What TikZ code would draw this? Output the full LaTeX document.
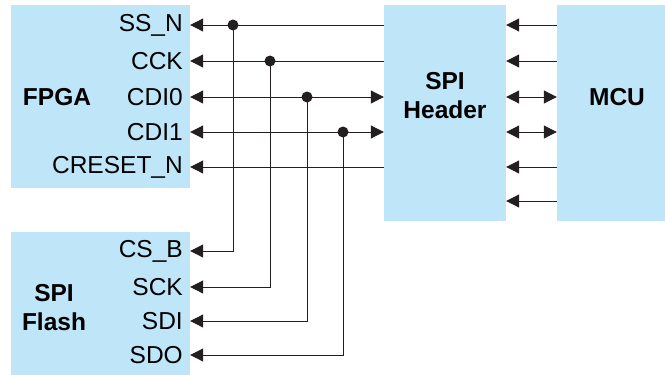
\documentclass[tikz,border=0pt]{standalone}
\usepackage{fontspec}
\setmainfont{Liberation Sans}
\usetikzlibrary{arrows.meta}
\definecolor{blockblue}{HTML}{BEE5F8}
\definecolor{wire}{HTML}{231F20}

\begin{document}
\begin{tikzpicture}[x=1pt,y=-1pt,
  block/.style={fill=blockblue,draw=none,inner sep=0pt},
  pin/.style={anchor=east,inner sep=0pt,font=\fontsize{24.5}{26}\selectfont},
  title/.style={align=center,inner sep=0pt,font=\fontsize{24.5}{29}\selectfont\bfseries},
  sig/.style={-{Triangle[length=13pt,width=13pt]},wire,line width=1pt},
  bidir/.style={{Triangle[length=13pt,width=13pt]}-{Triangle[length=13pt,width=13pt]},wire,line width=1pt},
  dot/.style={circle,fill=wire,inner sep=0pt,minimum size=11pt}]
  \useasboundingbox (0,0) rectangle (665,375);
  % blocks
  \node[block,minimum width=179pt,minimum height=183pt] (fpga) at (100.5,96.5) {};
  \node[block,minimum width=179pt,minimum height=143pt] (flash) at (100.5,303.5) {};
  \node[block,minimum width=122pt,minimum height=216pt] (hdr) at (445,113) {};
  \node[block,minimum width=108pt,minimum height=216pt] (mcu) at (611,113) {};
  \node[title] (fpgat) at (57,97) {FPGA};
  \node[title] (flasht) at (54,308) {SPI\\Flash};
  \node[title] (hdrt) at (445,96) {SPI\\Header};
  \node[title] (mcut) at (617,97) {MCU};
  % pin names
  \node[pin] (ssn) at (183,25) {SS\_N};
  \node[pin] (cck) at (183,61) {CCK};
  \node[pin] (cdi0) at (183,97) {CDI0};
  \node[pin] (cdi1) at (183,132) {CDI1};
  \node[pin] (creset) at (183,167) {CRESET\_N};
  \node[pin] (csb) at (183,251) {CS\_B};
  \node[pin] (sck) at (183,287) {SCK};
  \node[pin] (sdi) at (183,321) {SDI};
  \node[pin] (sdo) at (183,355) {SDO};
  % header to fpga
  \draw[sig] (hdr.west |- ssn) -- (fpga.east |- ssn);
  \draw[sig] (hdr.west |- cck) -- (fpga.east |- cck);
  \draw[bidir] (fpga.east |- cdi0) -- (hdr.west |- cdi0);
  \draw[bidir] (fpga.east |- cdi1) -- (hdr.west |- cdi1);
  \draw[sig] (hdr.west |- creset) -- (fpga.east |- creset);
  % taps to the flash
  \coordinate (j1) at (233,25);
  \coordinate (j2) at (270,61);
  \coordinate (j3) at (307,97);
  \coordinate (j4) at (343,132);
  \draw[sig] (j1) |- (flash.east |- csb);
  \draw[sig] (j2) |- (flash.east |- sck);
  \draw[sig] (j3) |- (flash.east |- sdi);
  \draw[sig] (j4) |- (flash.east |- sdo);
  \foreach \j in {j1,j2,j3,j4}
    \node[dot] at (\j) {};
  % mcu to header
  \foreach \y in {25,61,167,201}
    \draw[sig] (mcu.west |- 0,\y) -- (hdr.east |- 0,\y);
  \foreach \y in {97,132}
    \draw[bidir] (mcu.west |- 0,\y) -- (hdr.east |- 0,\y);
\end{tikzpicture}
\end{document}
